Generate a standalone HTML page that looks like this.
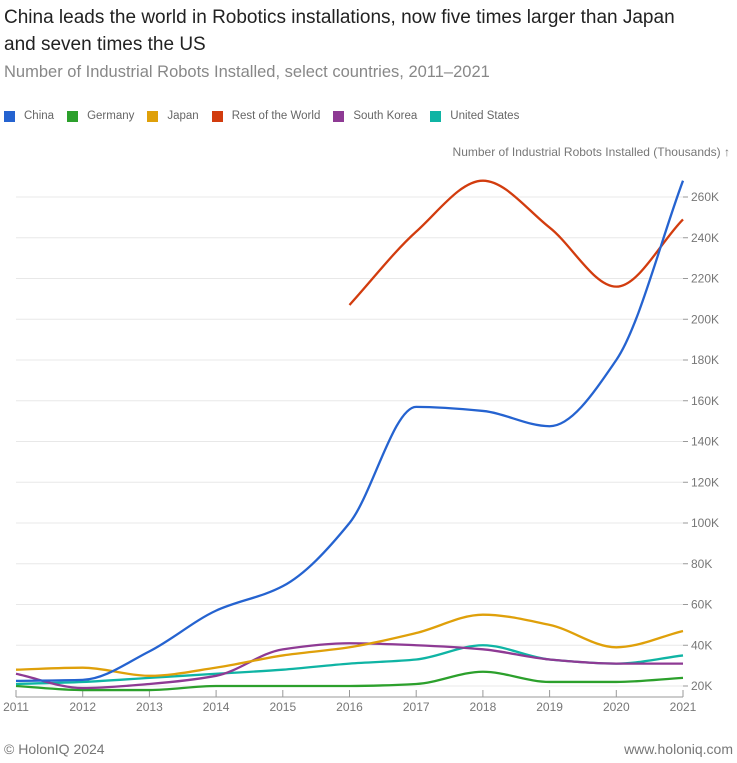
<!DOCTYPE html>
<html><head><meta charset="utf-8"><style>
body{margin:0;background:#fff;font-family:"Liberation Sans",sans-serif;width:737px;height:763px;overflow:hidden;position:relative}
.t{position:absolute;left:4px;top:4px;font-size:19px;line-height:27px;color:#222;width:695px}
.st{position:absolute;left:4px;top:63px;font-size:16.5px;color:#888}
.lg{position:absolute;top:110px;left:4px;font-size:11.5px;color:#666;display:flex}
.lg span{display:flex;align-items:center;margin-right:13px}
.lg i{display:inline-block;width:11px;height:11px;margin-right:9px}
.f{position:absolute;top:741px;font-size:14px;color:#777}
</style></head><body>
<div class="t">China leads the world in Robotics installations, now five times larger than Japan and seven times the US</div>
<div class="st">Number of Industrial Robots Installed, select countries, 2011–2021</div>
<div class="lg">
<span><i style="background:#2563d0"></i>China</span>
<span><i style="background:#2ca02c"></i>Germany</span>
<span><i style="background:#dfa00a"></i>Japan</span>
<span><i style="background:#d23c0e"></i>Rest of the World</span>
<span><i style="background:#8e3a94"></i>South Korea</span>
<span><i style="background:#0fb4a4"></i>United States</span>
</div>
<svg id="c" width="737" height="763" style="position:absolute;left:0;top:0"></svg>
<div class="f" style="left:4px">© HolonIQ 2024</div>
<div class="f" style="right:4px">www.holoniq.com</div>
<script>
const years=[2011,2012,2013,2014,2015,2016,2017,2018,2019,2020,2021];
const yTicks=[20,40,60,80,100,120,140,160,180,200,220,240,260];
const china=[22.5,23,37,57,69,100,157,155,147.5,180,268];
const germany=[20,18,18,20,20,20,21,27,22,22,24];
const japan=[28,29,25,29,35,39,46,55,50,39,47];
const restOfWorld=[null,null,null,null,null,207,243,268,245,216,249];
const southKorea=[26,19,21,25,38,41,40,38,33,31,31];
const unitedStates=[21,22,24,26,28,31,33,40,33,31,35];
const NS="http://www.w3.org/2000/svg",svg=document.getElementById('c');
const x=v=>16+(v-2011)*66.7;
const y=v=>686-(v-20)*2.0375;
function mk(t,a){const e=document.createElementNS(NS,t);for(const k in a)e.setAttribute(k,a[k]);svg.appendChild(e);return e;}
yTicks.forEach(v=>{
 const g=mk('line',{x1:16,x2:683,y1:y(v),y2:y(v),stroke:'#e8e8e8'});
 
 
 mk('line',{x1:683,x2:688,y1:y(v),y2:y(v),stroke:'#999'});
 const t=mk('text',{x:691,y:y(v)+4,'font-size':12,fill:'#777','font-family':'Liberation Sans'});t.textContent=v+'K';
 
 
});
const ax=mk('line',{x1:16,x2:683,y1:697,y2:697,stroke:'#999'});


years.forEach(v=>{
 mk('line',{x1:x(v),x2:x(v),y1:690,y2:697,stroke:'#999'});
 const t=mk('text',{x:x(v),y:711,'font-size':12,fill:'#777','text-anchor':'middle','font-family':'Liberation Sans'});t.textContent=v;
 
 
});
const yt=mk('text',{x:730,y:156,'font-size':12,fill:'#777','text-anchor':'end','font-family':'Liberation Sans'});
yt.textContent='Number of Industrial Robots Installed (Thousands) ↑';


function mono(pts){
 const n=pts.length;if(n<2)return '';
 const d=[],m=[];
 for(let i=0;i<n-1;i++)d.push((pts[i+1][1]-pts[i][1])/(pts[i+1][0]-pts[i][0]));
 m[0]=d[0];m[n-1]=d[n-2];
 for(let i=1;i<n-1;i++){const s0=d[i-1],s1=d[i];m[i]=(s0*s1>0)?2*s0*s1/(s0+s1):0;}
 let s='M'+pts[0][0]+','+pts[0][1];
 for(let i=0;i<n-1;i++){const h=(pts[i+1][0]-pts[i][0])/3;
  s+=' C'+(pts[i][0]+h)+','+(pts[i][1]+m[i]*h)+' '+(pts[i+1][0]-h)+','+(pts[i+1][1]-m[i+1]*h)+' '+pts[i+1][0]+','+pts[i+1][1];}
 return s;
}
function line(data,col,name){
 const pts=[];data.forEach((v,i)=>{if(v!=null)pts.push([x(years[i]),y(v)]);});
 const p=mk('path',{d:mono(pts),fill:'none',stroke:col,'stroke-width':2.3});
 
 
}
line(germany,'#2ca02c','line-germany');
line(unitedStates,'#0fb4a4','line-united-states');
line(southKorea,'#8e3a94','line-south-korea');
line(japan,'#dfa00a','line-japan');
line(restOfWorld,'#d23c0e','line-rest-of-world');
line(china,'#2563d0','line-china');
</script>
</body></html>
